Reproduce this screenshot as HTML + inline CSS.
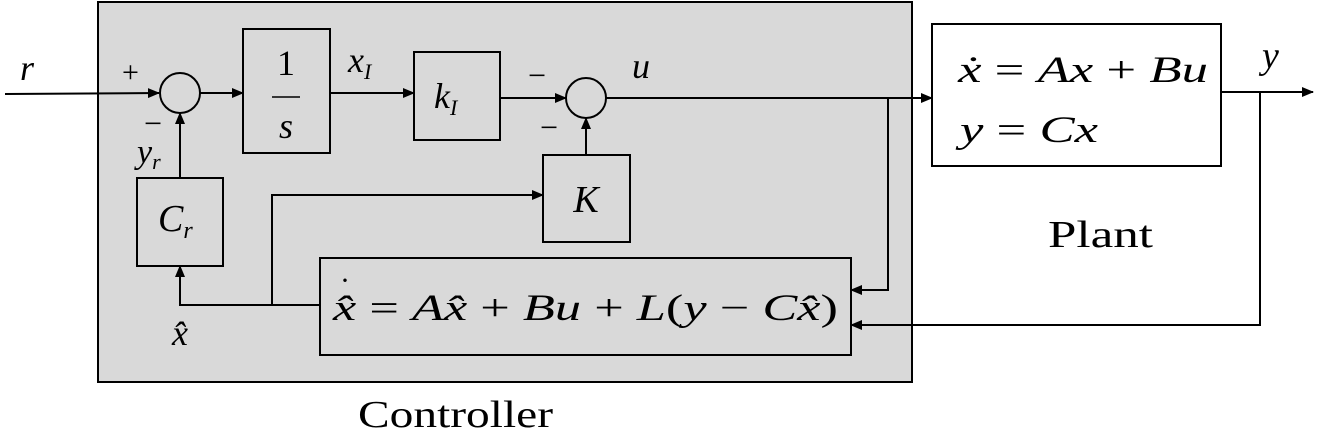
<!DOCTYPE html>
<html><head><meta charset="utf-8"><style>
html,body{margin:0;padding:0;background:#fff;}
svg{display:block;}
text{font-family:"Liberation Serif",serif;fill:#000;}
.i{font-style:italic;}
</style></head><body>
<svg width="1327" height="431" viewBox="0 0 1327 431">
<defs><marker id="ah" markerWidth="12" markerHeight="10" refX="11" refY="5" orient="auto" markerUnits="userSpaceOnUse"><path d="M0,0 L12,5 L0,10 z" fill="#000"/></marker></defs>
<g stroke="#000" stroke-width="2" fill="none">
<rect x="98" y="2" width="814" height="380" fill="#d9d9d9"/>
<rect x="243" y="29" width="87" height="124" fill="#d9d9d9"/>
<rect x="414" y="52" width="86" height="88" fill="#d9d9d9"/>
<rect x="543" y="155" width="87" height="87" fill="#d9d9d9"/>
<rect x="137" y="178" width="86" height="88" fill="#d9d9d9"/>
<rect x="320" y="258" width="531" height="97" fill="#d9d9d9"/>
<rect x="932" y="24" width="289" height="142" fill="#fff"/>
<circle cx="180" cy="93" r="20"/>
<circle cx="586" cy="98" r="20"/>
<line x1="5" y1="94" x2="159" y2="93" marker-end="url(#ah)"/>
<line x1="200" y1="93" x2="243" y2="93" marker-end="url(#ah)"/>
<line x1="330" y1="93" x2="414" y2="93" marker-end="url(#ah)"/>
<line x1="500" y1="98" x2="566" y2="98" marker-end="url(#ah)"/>
<line x1="606" y1="98" x2="932" y2="98" marker-end="url(#ah)"/>
<line x1="1221" y1="92" x2="1313" y2="92" marker-end="url(#ah)"/>
<polyline points="1260,92 1260,325 851,325" marker-end="url(#ah)"/>
<polyline points="888,98 888,290 851,290" marker-end="url(#ah)"/>
<polyline points="320,305 180,305 180,266" marker-end="url(#ah)"/>
<line x1="180" y1="178" x2="180" y2="113" marker-end="url(#ah)"/>
<polyline points="272,305 272,195 543,195" marker-end="url(#ah)"/>
<line x1="586" y1="155" x2="586" y2="118" marker-end="url(#ah)"/>
<line x1="272" y1="97" x2="300" y2="97" stroke-width="1.5"/>
</g>
<text class="i" x="20" y="80" font-size="36">r</text>
<text x="122" y="82" font-size="30">+</text>
<text x="144" y="134" font-size="32">−</text>
<text class="i" x="137" y="163" font-size="34">y<tspan font-size="22" dy="6">r</tspan></text>
<text x="286" y="75" font-size="36" text-anchor="middle">1</text>
<text class="i" x="286" y="138" font-size="36" text-anchor="middle">s</text>
<text class="i" x="348" y="72" font-size="36">x<tspan font-size="22" dy="7">I</tspan></text>
<text class="i" x="434" y="108" font-size="36">k<tspan font-size="22" dy="7">I</tspan></text>
<text x="528" y="86" font-size="32">−</text>
<text x="540" y="138" font-size="32">−</text>
<text class="i" x="632" y="78" font-size="36">u</text>
<text class="i" x="586" y="212" font-size="38" text-anchor="middle">K</text>
<text class="i" x="158" y="231" font-size="38">C<tspan font-size="24" dy="7">r</tspan></text>
<text class="i" x="172" y="345" font-size="36">x̂</text>
<text x="333" y="320" font-size="37" textLength="505" lengthAdjust="spacingAndGlyphs"><tspan class="i">x̂</tspan> = <tspan class="i">A</tspan><tspan class="i">x̂</tspan> + <tspan class="i">Bu</tspan> + <tspan class="i">L</tspan>(<tspan class="i">y</tspan> − <tspan class="i">C</tspan><tspan class="i">x̂</tspan>)</text>
<text x="340" y="290" font-size="30">·</text>
<text x="958" y="82" font-size="37" textLength="250" lengthAdjust="spacingAndGlyphs"><tspan class="i">ẋ</tspan> = <tspan class="i">Ax</tspan> + <tspan class="i">Bu</tspan></text>
<text x="960" y="142" font-size="37" textLength="138" lengthAdjust="spacingAndGlyphs"><tspan class="i">y</tspan> = <tspan class="i">Cx</tspan></text>
<text class="i" x="1262" y="68" font-size="38">y</text>
<text x="1048" y="247" font-size="38" textLength="105" lengthAdjust="spacingAndGlyphs">Plant</text>
<text x="358" y="427" font-size="38" textLength="195" lengthAdjust="spacingAndGlyphs">Controller</text>
</svg>
</body></html>
